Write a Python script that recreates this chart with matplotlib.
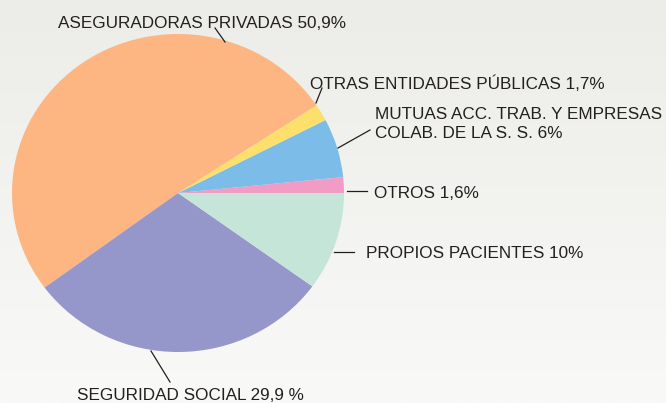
import matplotlib.pyplot as plt
import numpy as np

# slice data, counter-clockwise from 3 o'clock
labels = ['OTROS 1,6%',
          'MUTUAS ACC. TRAB. Y EMPRESAS\nCOLAB. DE LA S. S. 6%',
          'OTRAS ENTIDADES PÚBLICAS 1,7%',
          'ASEGURADORAS PRIVADAS 50,9%',
          'SEGURIDAD SOCIAL 29,9 %',
          'PROPIOS PACIENTES 10%']
values = [1.6, 6.0, 1.7, 50.9, 29.9, 10.0]
colors = ['#f29bc4', '#7bbde8', '#fde06c', '#fdb582', '#9597cb', '#c4e5d8']

W, H = 666, 403
fig = plt.figure(figsize=(W / 100, H / 100), dpi=100)

# background gradient
bg = fig.add_axes([0, 0, 1, 1])
grad = np.linspace(0, 1, 256).reshape(-1, 1)
top = np.array([236, 236, 232]) / 255
bot = np.array([249, 249, 248]) / 255
img = top[None, None, :] * (1 - grad[:, :, None]) + bot[None, None, :] * grad[:, :, None]
bg.imshow(img, aspect='auto', extent=[0, W, H, 0])
bg.set_xlim(0, W)
bg.set_ylim(H, 0)
bg.axis('off')

# pie (slightly wider than tall, as in the source)
x0, x1, y0, y1 = 12, 344, 34, 352
pax = fig.add_axes([x0 / W, 1 - y1 / H, (x1 - x0) / W, (y1 - y0) / H])
pax.pie(values, colors=colors, startangle=0, counterclock=True,
        wedgeprops=dict(linewidth=0))
pax.set_aspect('auto')
pax.set_xlim(-1, 1)
pax.set_ylim(-1, 1)
pax.axis('off')

# labels and leader lines, pixel coordinates
ov = fig.add_axes([0, 0, 1, 1])
ov.set_xlim(0, W)
ov.set_ylim(H, 0)
ov.axis('off')
ov.patch.set_alpha(0)

fs = 12.3
tc = '#231f20'

txt = [(58, 28, labels[3]),
       (310, 89, labels[2]),
       (375, 119, labels[1].split('\n')[0]),
       (375, 138, labels[1].split('\n')[1]),
       (374, 198, labels[0]),
       (366, 258, labels[5]),
       (77, 400, labels[4])]
for x, y, s in txt:
    ov.text(x, y, s, fontsize=fs, color=tc, va='baseline', ha='left',
            family=['Liberation Sans', 'DejaVu Sans'])

leaders = [((215, 28), (225, 42)),
           ((322, 88), (316, 103)),
           ((370, 130), (338, 148)),
           ((347, 191), (367, 191)),
           ((334, 252), (354, 252)),
           ((151, 351), (170, 382))]
for (ax_, ay), (bx, by) in leaders:
    ov.plot([ax_, bx], [ay, by], color='#231f20', lw=0.9)

fig.savefig('out.png', dpi=100)
